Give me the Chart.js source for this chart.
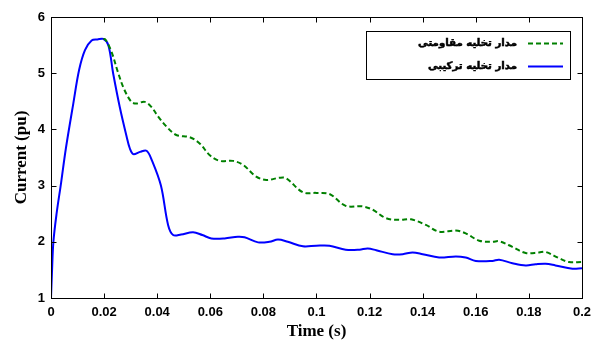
<!DOCTYPE html>
<html>
<head>
<meta charset="utf-8">
<script src="https://cdn.jsdelivr.net/npm/chart.js@4/dist/chart.umd.min.js"></script>
<style>
html,body{margin:0;padding:0;background:#fff;}
canvas{display:block;}
</style>
</head>
<body>
<canvas id="c" width="598" height="343"></canvas>
<script>
// ---- data ----
const seriesLabels = ['مدار تخلیه مقاومتی', 'مدار تخلیه ترکیبی'];

const timeGreen = [0.0197, 0.0205, 0.0228, 0.0252, 0.0275, 0.0303, 0.0322, 0.0353, 0.0378, 0.0405, 0.0435, 0.0472, 0.0523, 0.056, 0.0598, 0.0635, 0.0685, 0.0723, 0.0773, 0.0811, 0.0861, 0.0886, 0.0949, 0.0999, 0.1049, 0.111, 0.1174, 0.1212, 0.1262, 0.1312, 0.1356, 0.1412, 0.1462, 0.1525, 0.1562, 0.1613, 0.1663, 0.1688, 0.1738, 0.1788, 0.1838, 0.1863, 0.1913, 0.1951, 0.2];
const currentGreen = [5.61, 5.6, 5.38, 5.02, 4.72, 4.49, 4.46, 4.49, 4.40, 4.22, 4.05, 3.90, 3.86, 3.75, 3.54, 3.44, 3.44, 3.37, 3.16, 3.10, 3.14, 3.13, 2.88, 2.87, 2.85, 2.64, 2.63, 2.57, 2.42, 2.39, 2.40, 2.30, 2.18, 2.20, 2.15, 2.02, 2.0, 2.01, 1.91, 1.80, 1.81, 1.82, 1.71, 1.64, 1.64];

const timeBlue = [0, 0.0004, 0.0009, 0.0021, 0.0038, 0.0056, 0.0084, 0.0106, 0.0128, 0.0153, 0.0175, 0.0197, 0.0216, 0.0234, 0.0259, 0.0285, 0.0297, 0.031, 0.0335, 0.036, 0.038, 0.0414, 0.0441, 0.046, 0.049, 0.0535, 0.057, 0.0604, 0.0654, 0.0704, 0.0729, 0.078, 0.0823, 0.0855, 0.0892, 0.0949, 0.0999, 0.1049, 0.111, 0.1162, 0.1193, 0.1225, 0.1287, 0.1325, 0.1362, 0.14, 0.1462, 0.1525, 0.1562, 0.16, 0.1663, 0.1688, 0.1738, 0.1788, 0.1825, 0.1863, 0.19, 0.1964, 0.2];
const currentBlue = [1, 1.5, 2.0, 2.5, 3.05, 3.66, 4.46, 5.06, 5.41, 5.58, 5.6, 5.61, 5.5, 5.0, 4.40, 3.87, 3.66, 3.56, 3.6, 3.62, 3.45, 3.0, 2.3, 2.12, 2.13, 2.17, 2.12, 2.06, 2.06, 2.09, 2.08, 1.99, 2.0, 2.04, 2.0, 1.92, 1.93, 1.93, 1.86, 1.86, 1.88, 1.85, 1.78, 1.78, 1.81, 1.78, 1.72, 1.74, 1.72, 1.66, 1.66, 1.68, 1.62, 1.58, 1.6, 1.61, 1.58, 1.52, 1.53];

const xTickValues = [0, 0.02, 0.04, 0.06, 0.08, 0.1, 0.12, 0.14, 0.16, 0.18, 0.2];
const xTickLabels = ['0', '0.02', '0.04', '0.06', '0.08', '0.1', '0.12', '0.14', '0.16', '0.18', '0.2'];
const yTickValues = [1, 2, 3, 4, 5, 6];
const yTickLabels = ['1', '2', '3', '4', '5', '6'];

const xTitle = 'Time (s)';
const yTitle = 'Current (pu)';

// ---- build ----
const toPts = (xs, ys) => xs.map((x, i) => ({x: x, y: ys[i]}));

const framePlugin = {
  id: 'frame',
  beforeDraw(chart) {
    const ctx = chart.ctx;
    ctx.save();
    ctx.fillStyle = '#fff';
    ctx.fillRect(0, 0, chart.width, chart.height);
    ctx.restore();
  },
  afterDatasetsDraw(chart) {
    const ctx = chart.ctx;
    const a = chart.chartArea;
    const xs = chart.scales.x, ys = chart.scales.y;
    const L = Math.round(a.left) + 0.5, R = Math.round(a.right) + 0.5;
    const T = Math.round(a.top) + 0.5, B = Math.round(a.bottom) + 0.5;
    ctx.save();
    ctx.strokeStyle = '#000';
    ctx.lineWidth = 1;
    ctx.strokeRect(L, T, R - L, B - T);
    const tl = 5;
    ctx.beginPath();
    xTickValues.forEach(v => {
      const px = Math.round(xs.getPixelForValue(v)) + 0.5;
      ctx.moveTo(px, B); ctx.lineTo(px, B - tl);
      ctx.moveTo(px, T); ctx.lineTo(px, T + tl);
    });
    yTickValues.forEach(v => {
      const py = Math.round(ys.getPixelForValue(v)) + 0.5;
      ctx.moveTo(L, py); ctx.lineTo(L + tl, py);
      ctx.moveTo(R, py); ctx.lineTo(R - tl, py);
    });
    ctx.stroke();

    // legend
    const bx = 366.5, by = 31.5, bw = 204, bh = 48;
    ctx.fillStyle = '#fff';
    ctx.fillRect(bx, by, bw, bh);
    ctx.strokeRect(bx, by, bw, bh);
    const rowsY = [43.5, 66.5];
    ctx.direction = 'rtl';
    ctx.textAlign = 'right';
    ctx.textBaseline = 'middle';
    ctx.font = "bold 12px 'DejaVu Sans'";
    const w0 = ctx.measureText(chart.data.datasets[0].label).width;
    const fs = Math.max(9, Math.min(15, 12 * 99 / w0));
    ctx.font = "bold " + fs.toFixed(1) + "px 'DejaVu Sans'";
    chart.data.datasets.forEach((ds, i) => {
      const y = rowsY[i];
      ctx.save();
      ctx.strokeStyle = ds.borderColor;
      ctx.lineWidth = 2;
      ctx.setLineDash(ds.borderDash || []);
      ctx.beginPath();
      ctx.moveTo(528, y); ctx.lineTo(563, y);
      ctx.stroke();
      ctx.restore();
      ctx.fillStyle = '#000';
      ctx.lineWidth = 0.5;
      ctx.strokeStyle = '#000';
      ctx.fillText(ds.label, 517, y);
      ctx.strokeText(ds.label, 517, y);
    });
    ctx.restore();
  }
};

new Chart(document.getElementById('c'), {
  type: 'line',
  data: {
    datasets: [
      {
        label: seriesLabels[0],
        data: toPts(timeGreen, currentGreen),
        borderColor: '#008000',
        borderWidth: 2,
        borderDash: [5, 3],
        pointRadius: 0,
        tension: 0.35,
        fill: false
      },
      {
        label: seriesLabels[1],
        data: toPts(timeBlue, currentBlue),
        borderColor: '#0000ff',
        borderWidth: 2,
        pointRadius: 0,
        tension: 0.35,
        fill: false
      }
    ]
  },
  options: {
    responsive: false,
    animation: false,
    devicePixelRatio: 1,
    layout: {padding: {left: 0, right: 15, top: 17, bottom: 0}},
    plugins: {legend: {display: false}, tooltip: {enabled: false}},
    scales: {
      x: {
        type: 'linear',
        min: 0, max: 0.2,
        grid: {display: false, drawTicks: false},
        border: {display: false},
        afterBuildTicks: s => { s.ticks = xTickValues.map(v => ({value: v})); },
        afterFit: s => { s.height = 45; },
        ticks: {
          autoSkip: false,
          maxRotation: 0,
          padding: 7,
          color: '#000',
          font: {family: "'Liberation Sans', Arial", size: 13, weight: 'bold'},
          callback: (v, i) => xTickLabels[i]
        },
        title: {
          display: true, text: xTitle, color: '#000',
          font: {family: "'Liberation Serif', 'Times New Roman'", size: 17, weight: 'bold'},
          padding: {top: 0, bottom: 1}
        }
      },
      y: {
        type: 'linear',
        min: 1, max: 6,
        grid: {display: false, drawTicks: false},
        border: {display: false},
        afterBuildTicks: s => { s.ticks = yTickValues.map(v => ({value: v})); },
        afterFit: s => { s.width = 51; },
        ticks: {
          padding: 6,
          color: '#000',
          font: {family: "'Liberation Sans', Arial", size: 13, weight: 'bold'},
          callback: (v, i) => yTickLabels[i]
        },
        title: {
          display: true, text: yTitle, color: '#000',
          font: {family: "'Liberation Serif', 'Times New Roman'", size: 17, weight: 'bold'},
          padding: {top: 11, bottom: 0}
        }
      }
    }
  },
  plugins: [framePlugin]
});
</script>
</body>
</html>
